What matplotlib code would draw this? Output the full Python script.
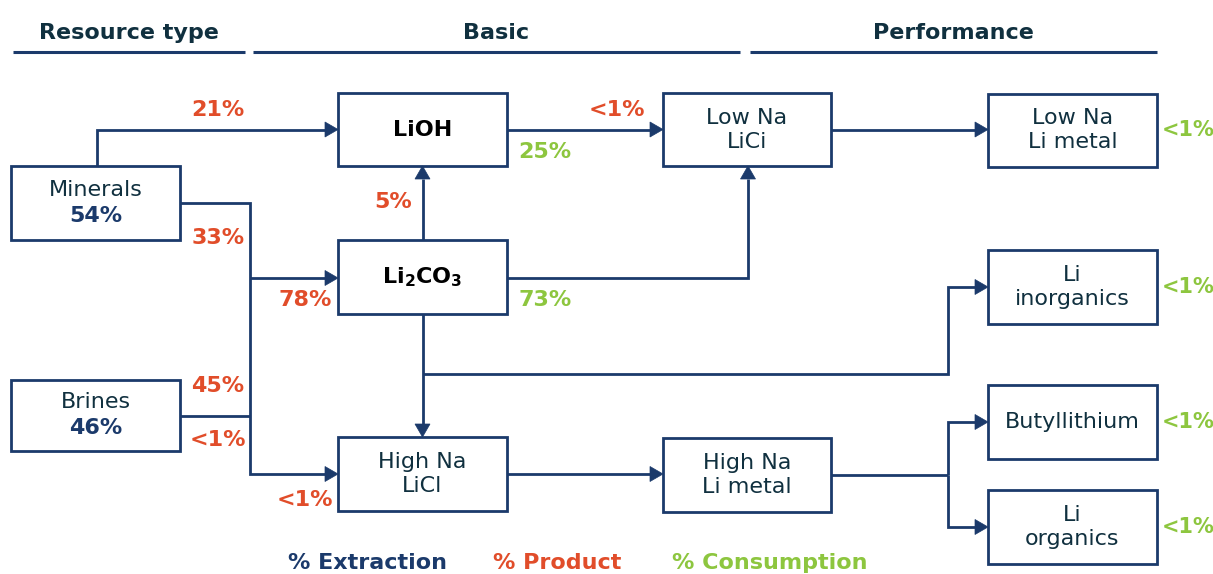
import matplotlib
matplotlib.use("Agg")
import matplotlib.pyplot as plt
from matplotlib.patches import Rectangle, Polygon

# ---------------- data ----------------
headers = ["Resource type", "Basic", "Performance"]
resource_names = ["Minerals", "Brines"]
resource_shares = ["54%", "46%"]          # % extraction
basic_nodes = ["LiOH", "Li2CO3", "High Na\nLiCl"]
mid_nodes = ["Low Na\nLiCi", "High Na\nLi metal"]
perf_nodes = ["Low Na\nLi metal", "Li\ninorganics", "Butyllithium", "Li\norganics"]
product_labels = ["21%", "33%", "45%", "<1%", "78%", "<1%", "5%", "<1%"]   # % product
consumption_basic = ["25%", "73%"]                                        # % consumption
consumption_perf = ["<1%", "<1%", "<1%", "<1%"]
legend_labels = ["% Extraction", "% Product", "% Consumption"]

# ---------------- style ----------------
NAVY = "#1b3a6b"
TXT = "#10303f"
RED = "#e14d2a"
GREEN = "#8dc63f"
FONT = "DejaVu Sans"
FS = 16
LW = 2.0

plt.rcParams["mathtext.fontset"] = "dejavusans"

fig = plt.figure(figsize=(12.13, 5.74), dpi=100)
ax = fig.add_axes([0, 0, 1, 1])
ax.set_xlim(0, 1213)
ax.set_ylim(574, 0)
ax.axis("off")

# layout (pixel space)
boxes = {
    "Minerals": (11, 166, 180, 240),
    "Brines": (11, 380, 180, 451),
    "LiOH": (338, 93, 507, 166),
    "Li2CO3": (338, 240, 507, 314),
    "High Na\nLiCl": (338, 437, 507, 511),
    "Low Na\nLiCi": (663, 93, 831, 166),
    "High Na\nLi metal": (663, 438, 831, 512),
    "Low Na\nLi metal": (988, 94, 1157, 167),
    "Li\ninorganics": (988, 250, 1157, 324),
    "Butyllithium": (988, 385, 1157, 459),
    "Li\norganics": (988, 490, 1157, 564),
}

def draw_box(name):
    x0, y0, x1, y1 = boxes[name]
    ax.add_patch(Rectangle((x0, y0), x1 - x0, y1 - y0, fill=False,
                           edgecolor=NAVY, lw=LW, joinstyle="miter"))
    return (x0 + x1) / 2, (y0 + y1) / 2

# headers
header_spans = [(13, 245), (253, 740), (750, 1157)]
for h, (a, b) in zip(headers, header_spans):
    ax.text((a + b) / 2, 33, h, ha="center", va="center", fontsize=FS,
            fontweight="bold", color=TXT, family=FONT)
    ax.plot([a, b], [52, 52], color=NAVY, lw=2.2, solid_capstyle="butt")

# resource boxes
for n, s in zip(resource_names, resource_shares):
    cx, cy = draw_box(n)
    ax.text(cx, cy - 13, n, ha="center", va="center", fontsize=FS, color=TXT, family=FONT)
    ax.text(cx, cy + 13, s, ha="center", va="center", fontsize=FS, color=NAVY,
            fontweight="bold", family=FONT)

# other boxes
for n in basic_nodes + mid_nodes + perf_nodes:
    cx, cy = draw_box(n)
    if n == "LiOH":
        ax.text(cx, cy, n, ha="center", va="center", fontsize=FS, color="black",
                fontweight="bold", family=FONT)
    elif n == "Li2CO3":
        ax.text(cx, cy, r"$\mathbf{Li_2CO_3}$", ha="center", va="center",
                fontsize=FS, color="black")
    else:
        ax.text(cx, cy, n, ha="center", va="center", fontsize=FS, color=TXT,
                family=FONT, linespacing=1.25)

HL, HW = 13, 15

def arrow_path(pts, head=True):
    xs = [p[0] for p in pts]
    ys = [p[1] for p in pts]
    if head:
        (xa, ya), (xb, yb) = pts[-2], pts[-1]
        dx = (xb > xa) - (xb < xa)
        dy = (yb > ya) - (yb < ya)
        bx, by = xb - dx * HL, yb - dy * HL
        xs[-1], ys[-1] = bx, by
        px, py = -dy, dx
        tri = [(xb, yb), (bx + px * HW / 2, by + py * HW / 2),
               (bx - px * HW / 2, by - py * HW / 2)]
        ax.add_patch(Polygon(tri, closed=True, facecolor=NAVY, edgecolor=NAVY, lw=0.5))
    ax.plot(xs, ys, color=NAVY, lw=LW, solid_joinstyle="miter", solid_capstyle="butt")

def L(n): return boxes[n][0]
def R(n): return boxes[n][2]
def T(n): return boxes[n][1]
def B(n): return boxes[n][3]
def CX(n): return (boxes[n][0] + boxes[n][2]) / 2
def CY(n): return (boxes[n][1] + boxes[n][3]) / 2

lioh, li2co3, hlicl = basic_nodes
llici, hlim = mid_nodes
llim, linorg, butyl, lorg = perf_nodes
trunk_x = 250
split_x = 948
branch_y = 374

arrow_path([(97, T("Minerals")), (97, CY(lioh)), (L(lioh), CY(lioh))])
arrow_path([(R("Minerals"), CY("Minerals")), (trunk_x, CY("Minerals")),
            (trunk_x, CY(hlicl)), (L(hlicl), CY(hlicl))])
arrow_path([(trunk_x, CY(li2co3) + 1), (L(li2co3), CY(li2co3) + 1)])
arrow_path([(R("Brines"), CY("Brines")), (trunk_x, CY("Brines"))], head=False)
arrow_path([(CX(li2co3), T(li2co3)), (CX(lioh), B(lioh))])
arrow_path([(R(lioh), CY(lioh)), (L(llici), CY(lioh))])
arrow_path([(R(li2co3), CY(li2co3) + 1), (748, CY(li2co3) + 1), (748, B(llici))])
arrow_path([(CX(li2co3), B(li2co3)), (CX(hlicl), T(hlicl))])
arrow_path([(CX(li2co3), branch_y), (split_x, branch_y), (split_x, CY(linorg)),
            (L(linorg), CY(linorg))])
arrow_path([(R(llici), CY(llici)), (L(llim), CY(llici))])
arrow_path([(R(hlicl), CY(hlicl)), (L(hlim), CY(hlicl))])
arrow_path([(R(hlim), CY(hlim)), (split_x, CY(hlim))], head=False)
arrow_path([(split_x, CY(hlim)), (split_x, CY(butyl)), (L(butyl), CY(butyl))])
arrow_path([(split_x, CY(hlim)), (split_x, CY(lorg)), (L(lorg), CY(lorg))])

# product labels (red)
prod_pos = [(218, 110), (218, 238), (218, 386), (218, 440),
            (305, 300), (305, 500), (393, 202), (617, 110)]
for t, (x, y) in zip(product_labels, prod_pos):
    ax.text(x, y, t, ha="center", va="center", fontsize=FS, color=RED,
            fontweight="bold", family=FONT)

# consumption labels (green)
cons_pos = [(545, 152), (545, 300)]
for t, (x, y) in zip(consumption_basic, cons_pos):
    ax.text(x, y, t, ha="center", va="center", fontsize=FS, color=GREEN,
            fontweight="bold", family=FONT)
for t, n in zip(consumption_perf, perf_nodes):
    ax.text(1162, CY(n), t, ha="left", va="center", fontsize=15, color=GREEN,
            fontweight="bold", family=FONT)

# legend
for t, x, c in zip(legend_labels, [368, 557, 770], [NAVY, RED, GREEN]):
    ax.text(x, 563, t, ha="center", va="center", fontsize=FS, color=c,
            fontweight="bold", family=FONT)

fig.savefig("out.png", dpi=100)
